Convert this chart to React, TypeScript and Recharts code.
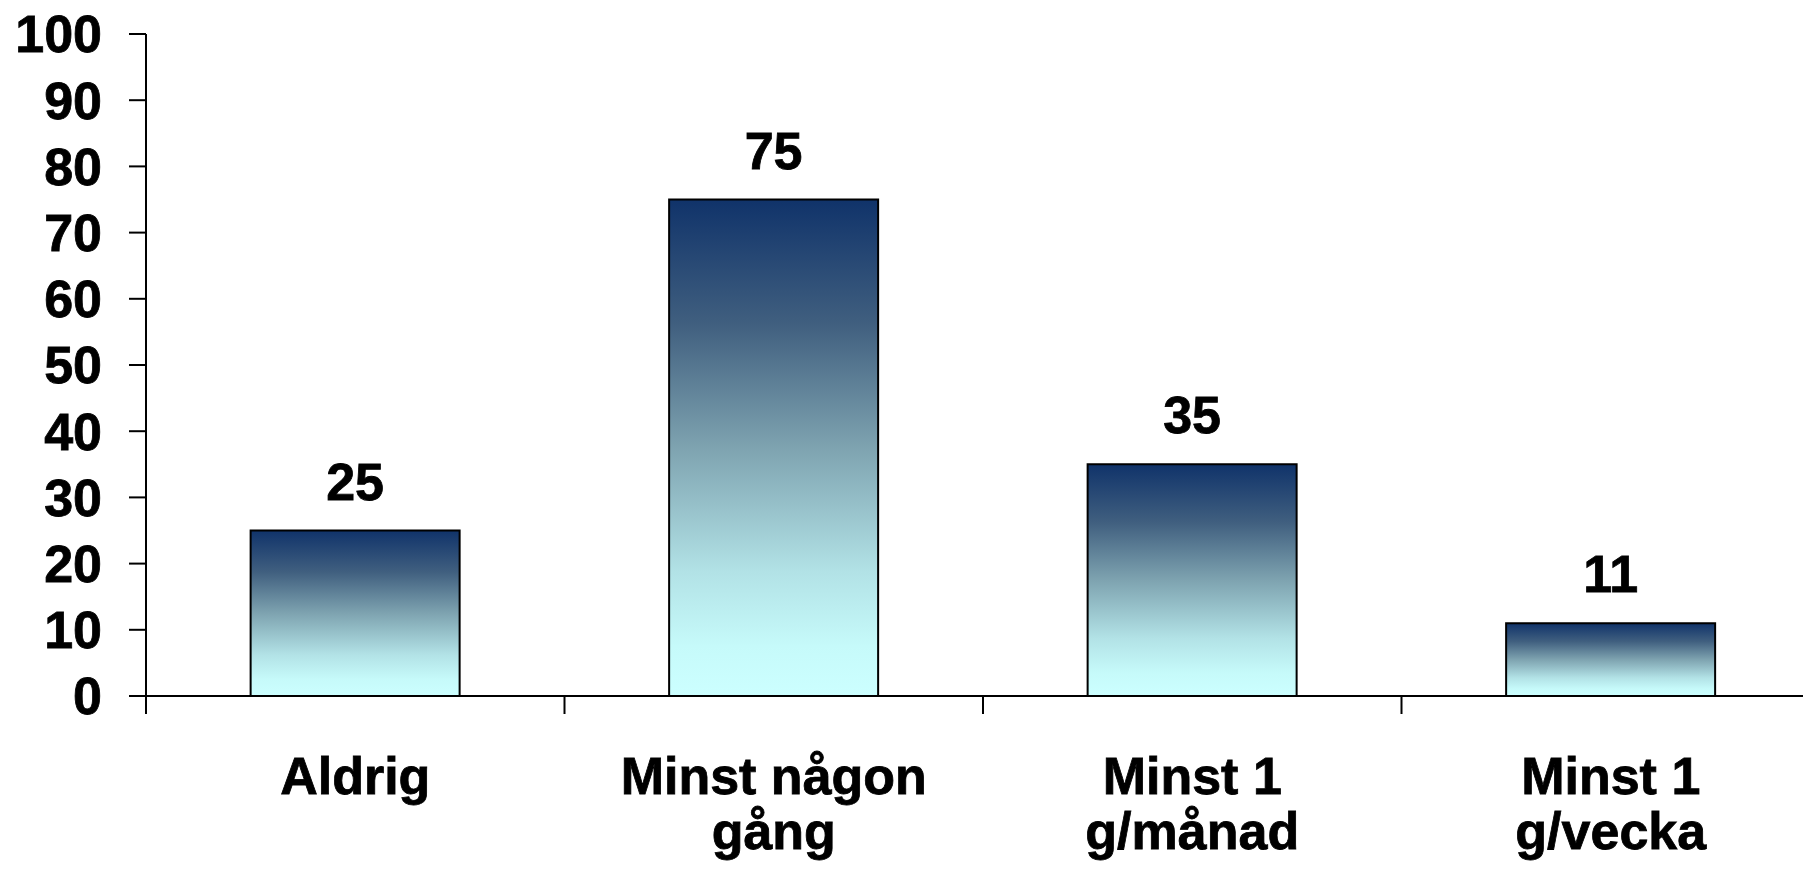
import React from 'react'
import { BarChart, Bar, XAxis, YAxis, LabelList } from 'recharts'

// Andel (%) – hur ofta
const categories = ['Aldrig', 'Minst någon\ngång', 'Minst 1\ng/månad', 'Minst 1\ng/vecka']
const values = [25, 75, 35, 11]
const yTicks = [0, 10, 20, 30, 40, 50, 60, 70, 80, 90, 100]

const data = categories.map((name, i) => ({ name, value: values[i] }))

const FONT = '"Liberation Sans", Arial, sans-serif'
const CHART_W = 1822
const CHART_H = 872
const MARGIN = { top: 34, right: 2, bottom: 0, left: 0 }
const Y_AXIS_W = 146
// half a category band, used to put the x tick marks between categories
const HALF_BAND = (CHART_W - MARGIN.left - MARGIN.right - Y_AXIS_W) / categories.length / 2

const textStyle = {
  fontFamily: FONT,
  fontWeight: 'bold' as const,
  fontSize: 52,
  fill: '#000',
  stroke: '#000',
  strokeWidth: 0.8,
}

function CategoryTick(props: any) {
  const { x, y, payload } = props
  const lines = String(payload.value).split('\n')
  return (
    <g>
      <line x1={x - HALF_BAND} y1={y} x2={x - HALF_BAND} y2={y + 18} stroke="#000" strokeWidth={2} />
      <text x={x} y={y} textAnchor="middle" {...textStyle}>
        {lines.map((line, i) => (
          <tspan key={i} x={x} y={y + 98 + i * 55}>
            {line}
          </tspan>
        ))}
      </text>
    </g>
  )
}

export default function App() {
  return (
    <div
      style={{
        position: 'fixed',
        left: 0,
        top: 0,
        width: 1803,
        height: 872,
        overflow: 'hidden',
        background: '#fff',
      }}
    >
      <BarChart
        width={CHART_W}
        height={CHART_H}
        data={data}
        margin={MARGIN}
        barCategoryGap="25%"
      >
        <defs>
          <linearGradient id="barFill" x1="0" y1="0" x2="0" y2="1">
            <stop offset="0%" stopColor="#10336a" />
            <stop offset="25%" stopColor="#405f7f" />
            <stop offset="50%" stopColor="#7ea3b0" />
            <stop offset="75%" stopColor="#b2e2e6" />
            <stop offset="90%" stopColor="#c6fafa" />
            <stop offset="100%" stopColor="#ccffff" />
          </linearGradient>
        </defs>
        <XAxis
          dataKey="name"
          interval={0}
          height={CHART_H - 696}
          tickSize={0}
          tickMargin={0}
          axisLine={{ stroke: '#000', strokeWidth: 2 }}
          tickLine={false}
          tick={<CategoryTick />}
        />
        <YAxis
          domain={[0, 100]}
          ticks={yTicks}
          interval={0}
          width={Y_AXIS_W}
          tickSize={17}
          tickMargin={27}
          axisLine={{ stroke: '#000', strokeWidth: 2 }}
          tickLine={{ stroke: '#000', strokeWidth: 2 }}
          tick={textStyle}
        />
        <Bar
          dataKey="value"
          fill="url(#barFill)"
          stroke="#000"
          strokeWidth={2}
          isAnimationActive={false}
        >
          <LabelList dataKey="value" position="top" offset={31} {...textStyle} />
        </Bar>
      </BarChart>
    </div>
  )
}
